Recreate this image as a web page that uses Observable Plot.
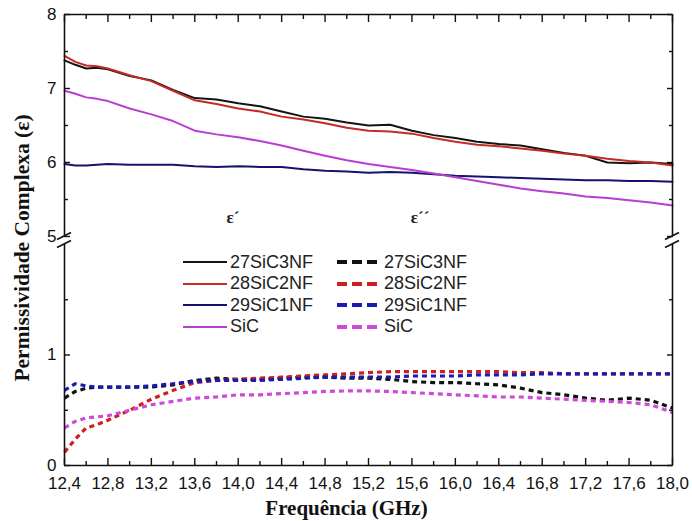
<!DOCTYPE html>
<html>
<head>
<meta charset="utf-8">
<script src="https://cdn.jsdelivr.net/npm/d3@7"></script>
<script src="https://cdn.jsdelivr.net/npm/@observablehq/plot@0.6"></script>
<style>
  html, body { margin: 0; padding: 0; background: #fff; }
  #wrap { position: relative; width: 692px; height: 521px; }
  .leg { position: absolute; font-family: "Liberation Sans", Arial, sans-serif; font-size: 18px; color: #222; display: flex; align-items: center; white-space: nowrap; }
  .leg svg { display: block; margin-right: 3px; }
  .eps { position: absolute; font-family: "Liberation Serif", "Times New Roman", serif; font-weight: bold; font-size: 17px; color: #222; transform: translate(-50%, -50%); }
</style>
</head>
<body>
<div id="wrap"></div>
<script>
// ---- data ----
const freq = [12.4,12.5,12.6,12.7,12.8,13.0,13.2,13.4,13.6,13.8,14.0,14.2,14.4,14.6,14.8,15.0,15.2,15.4,15.6,15.8,16.0,16.2,16.4,16.6,16.8,17.0,17.2,17.4,17.6,17.8,18.0];

// real part ε′ (solid)
const epsR_27SiC3NF = [7.38,7.32,7.27,7.28,7.26,7.17,7.11,6.98,6.87,6.85,6.80,6.76,6.69,6.62,6.59,6.54,6.50,6.51,6.43,6.37,6.33,6.28,6.25,6.23,6.18,6.13,6.09,6.00,5.99,6.00,5.98];
const epsR_28SiC2NF = [7.44,7.36,7.31,7.30,7.27,7.18,7.10,6.97,6.84,6.79,6.73,6.69,6.62,6.58,6.53,6.47,6.43,6.42,6.39,6.33,6.28,6.24,6.22,6.19,6.16,6.12,6.09,6.05,6.02,6.00,5.96];
const epsR_29SiC1NF = [5.98,5.96,5.96,5.97,5.98,5.97,5.97,5.97,5.95,5.94,5.95,5.94,5.94,5.91,5.89,5.88,5.86,5.87,5.86,5.84,5.82,5.81,5.80,5.79,5.78,5.77,5.76,5.76,5.75,5.75,5.74];
const epsR_SiC      = [6.97,6.93,6.88,6.86,6.83,6.73,6.65,6.56,6.43,6.38,6.34,6.29,6.23,6.16,6.09,6.03,5.98,5.94,5.90,5.85,5.80,5.75,5.70,5.65,5.61,5.58,5.54,5.52,5.49,5.46,5.42];

// imaginary part ε″ (dashed)
const epsI_27SiC3NF = [0.61,0.67,0.70,0.71,0.71,0.71,0.71,0.73,0.77,0.79,0.78,0.78,0.79,0.80,0.80,0.79,0.79,0.78,0.76,0.75,0.75,0.74,0.73,0.70,0.66,0.64,0.61,0.59,0.61,0.59,0.52];
const epsI_28SiC2NF = [0.12,0.24,0.34,0.37,0.41,0.50,0.60,0.68,0.75,0.77,0.78,0.79,0.80,0.81,0.82,0.83,0.84,0.85,0.85,0.85,0.85,0.85,0.85,0.84,0.84,0.83,0.83,0.83,0.83,0.83,0.83];
const epsI_29SiC1NF = [0.68,0.74,0.72,0.71,0.71,0.71,0.72,0.74,0.76,0.77,0.77,0.77,0.78,0.79,0.80,0.80,0.80,0.80,0.81,0.81,0.81,0.82,0.82,0.82,0.83,0.83,0.83,0.83,0.83,0.83,0.83];
const epsI_SiC      = [0.34,0.40,0.43,0.44,0.45,0.50,0.55,0.58,0.61,0.62,0.64,0.64,0.65,0.66,0.67,0.675,0.675,0.67,0.66,0.65,0.64,0.63,0.62,0.62,0.61,0.60,0.59,0.58,0.57,0.55,0.48];

const seriesNames = ["27SiC3NF", "28SiC2NF", "29SiC1NF", "SiC"];
const realValues = [epsR_27SiC3NF, epsR_28SiC2NF, epsR_29SiC1NF, epsR_SiC];
const imagValues = [epsI_27SiC3NF, epsI_28SiC2NF, epsI_29SiC1NF, epsI_SiC];
const realColors = ["#141414", "#c42a26", "#14146e", "#bb3cd2"];
const imagColors = ["#111111", "#d01e1e", "#1a1ab4", "#d04ad8"];

// axes
const xDomain = [12.4, 18.0];
const xMajorTicks = [12.4,12.8,13.2,13.6,14.0,14.4,14.8,15.2,15.6,16.0,16.4,16.8,17.2,17.6,18.0];
const xMinorTicks = [12.6,13.0,13.4,13.8,14.2,14.6,15.0,15.4,15.8,16.2,16.6,17.0,17.4,17.8];
const yLowerPanel = [0, 2];   // bottom panel extent
const yUpperPanel = [5, 8];   // top panel extent
const yLabelTicks = [0, 1, 5, 6, 7, 8];
const yMinorTicks = [0.5, 1.5, 5.5, 6.5, 7.5];
const xTitle = "Frequência (GHz)";
const yTitle = "Permissividade Complexa (ε)";
const partLabels = ["ε´", "ε´´"];

// ---- build tables ----
const rows = (vals) => freq.map((f, i) => ({f, v: vals[i]}));

const W = 692, H = 521, mT = 14, mB = 56, mL = 64, mR = 20;
const yBottomPx = H - mB, yTopPx = mT;
const breakLowPx = 244, breakHighPx = 236;

const lineMarks = [];
seriesNames.forEach((name, k) => {
  lineMarks.push(Plot.line(rows(realValues[k]), {x: "f", y: "v", stroke: realColors[k], strokeWidth: 2}));
});
seriesNames.forEach((name, k) => {
  lineMarks.push(Plot.line(rows(imagValues[k]), {x: "f", y: "v", stroke: imagColors[k], strokeWidth: 3.2, strokeDasharray: "5,4", strokeLinecap: "butt"}));
});

const breakMark = (index, scales) => {
  const g = d3.create("svg:g").attr("stroke", "#111").attr("stroke-width", 1.6);
  for (const xv of xDomain) {
    const px = scales.x(xv);
    for (const yv of [yLowerPanel[1], yUpperPanel[0]]) {
      const py = scales.y(yv);
      g.append("line").attr("x1", px - 7).attr("y1", py + 3.5).attr("x2", px + 7).attr("y2", py - 3.5);
    }
  }
  return g.node();
};

const serif = "'Liberation Serif', 'Times New Roman', serif";

const chart = Plot.plot({
  width: W, height: H,
  marginTop: mT, marginBottom: mB, marginLeft: mL, marginRight: mR,
  style: {fontFamily: "'Liberation Sans', Arial, sans-serif", fontSize: "17px", background: "white", color: "#111"},
  x: {domain: xDomain},
  y: {type: "linear", domain: [yLowerPanel[0], yLowerPanel[1], yUpperPanel[0], yUpperPanel[1]], range: [yBottomPx, breakLowPx, breakHighPx, yTopPx]},
  marks: [
    ...lineMarks,
    // frame (with a gap at the axis break)
    Plot.ruleY([yLowerPanel[0], yUpperPanel[1]], {stroke: "#111", strokeWidth: 1.6}),
    Plot.ruleX(xDomain, {y1: yLowerPanel[0], y2: yLowerPanel[1], stroke: "#111", strokeWidth: 1.6}),
    Plot.ruleX(xDomain, {y1: yUpperPanel[0], y2: yUpperPanel[1], stroke: "#111", strokeWidth: 1.6}),
    breakMark,
    // inward tick marks
    Plot.axisX({anchor: "bottom", ticks: xMajorTicks, tickSize: -7, fill: "none", label: null, strokeWidth: 1.4}),
    Plot.axisX({anchor: "bottom", ticks: xMinorTicks, tickSize: -4, fill: "none", label: null, strokeWidth: 1.4}),
    Plot.axisX({anchor: "top", ticks: xMajorTicks, tickSize: -7, fill: "none", label: null, strokeWidth: 1.4}),
    Plot.axisX({anchor: "top", ticks: xMinorTicks, tickSize: -4, fill: "none", label: null, strokeWidth: 1.4}),
    Plot.axisY({anchor: "left", ticks: yLabelTicks, tickSize: -6, fill: "none", label: null, strokeWidth: 1.4}),
    Plot.axisY({anchor: "left", ticks: yMinorTicks, tickSize: -4, fill: "none", label: null, strokeWidth: 1.4}),
    Plot.axisY({anchor: "right", ticks: yLabelTicks, tickSize: -6, fill: "none", label: null, strokeWidth: 1.4}),
    Plot.axisY({anchor: "right", ticks: yMinorTicks, tickSize: -4, fill: "none", label: null, strokeWidth: 1.4}),
    // tick labels
    Plot.axisX({anchor: "bottom", ticks: xMajorTicks, tickSize: 0, tickPadding: 11, label: null, tickFormat: d => d.toFixed(1).replace(".", ",")}),
    Plot.axisY({anchor: "left", ticks: yLabelTicks, tickSize: 0, tickPadding: 8, label: null, tickFormat: d => String(d)}),
    // axis titles
    Plot.text([xTitle], {text: d => d, frameAnchor: "bottom", dx: -22, dy: 43, lineAnchor: "middle", textAnchor: "middle", fontFamily: serif, fontWeight: "bold", fontSize: 21, fill: "#111"}),
    Plot.text([yTitle], {text: d => d, frameAnchor: "left", dx: -42, dy: 8, rotate: -90, lineAnchor: "middle", textAnchor: "middle", fontFamily: serif, fontWeight: "bold", fontSize: 21.5, fill: "#111"})
  ]
});

const wrap = document.getElementById("wrap");
wrap.appendChild(chart);

// ---- in-plot legend ----
const legendRowsY = [262, 283.5, 305, 326.5];
const colX = [183, 337];
seriesNames.forEach((name, k) => {
  [0, 1].forEach(c => {
    const div = document.createElement("div");
    div.className = "leg";
    div.style.left = colX[c] + "px";
    div.style.top = (legendRowsY[k] - 11) + "px";
    div.style.height = "22px";
    const color = c === 0 ? realColors[k] : imagColors[k];
    const dash = c === 0 ? "" : ' stroke-dasharray="10,5"';
    const sw = c === 0 ? 2 : 4;
    div.innerHTML = `<svg width="44" height="22"><line x1="0" y1="11" x2="44" y2="11" stroke="${color}" stroke-width="${sw}"${dash}/></svg><span>${name}</span>`;
    wrap.appendChild(div);
  });
});

// part labels ε′ / ε″
const partX = [233, 420];
partLabels.forEach((t, i) => {
  const s = document.createElement("div");
  s.className = "eps";
  s.style.left = partX[i] + "px";
  s.style.top = "218px";
  s.textContent = t;
  wrap.appendChild(s);
});
</script>
</body>
</html>
